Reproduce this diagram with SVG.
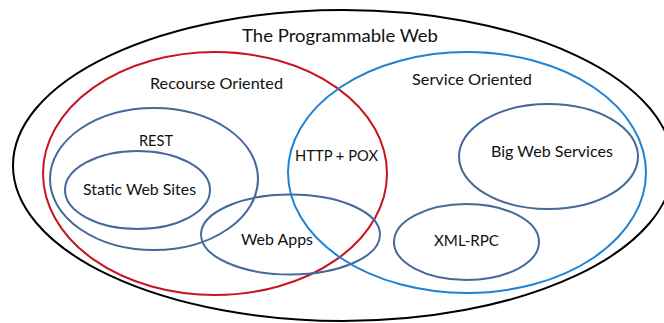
<svg xmlns="http://www.w3.org/2000/svg" width="664" height="323" viewBox="0 0 664 323">
  <style>
    .set { fill: none; stroke-width: 2; }
    .outer { stroke: #000000; }
    .resource { stroke: #c8141e; }
    .service { stroke: #1f82d2; }
    .inner { stroke: #44699a; }
    text { font-family: Lato, "Liberation Sans", Arial, sans-serif; fill: #111111; text-anchor: middle; }
    .big { font-size: 18px; }
    .lbl { font-size: 16px; }
  </style>
  <rect width="664" height="323" fill="#ffffff"/>

  <g id="programmable-web">
    <ellipse class="set outer" cx="343" cy="165.5" rx="330" ry="155.5"/>
    <text class="big" x="340" y="42" textLength="196" lengthAdjust="spacingAndGlyphs">The Programmable Web</text>
  </g>

  <g id="resource-oriented">
    <ellipse class="set resource" cx="215" cy="173.5" rx="172" ry="121.5"/>
    <text class="lbl" x="216.5" y="89" textLength="133" lengthAdjust="spacingAndGlyphs">Recourse Oriented</text>
  </g>

  <g id="service-oriented">
    <ellipse class="set service" cx="467" cy="172.5" rx="179" ry="120.5"/>
    <text class="lbl" x="472" y="85" textLength="120" lengthAdjust="spacingAndGlyphs">Service Oriented</text>
  </g>

  <g id="rest">
    <ellipse class="set inner" cx="154" cy="179" rx="104" ry="71"/>
    <text class="lbl" x="156" y="146" textLength="34" lengthAdjust="spacingAndGlyphs">REST</text>
  </g>

  <g id="static-web-sites">
    <ellipse class="set inner" cx="137.5" cy="190" rx="72.5" ry="39"/>
    <text class="lbl" x="139.5" y="195" textLength="113" lengthAdjust="spacingAndGlyphs">Static Web Sites</text>
  </g>

  <g id="http-pox">
    <text class="lbl" x="336.5" y="161" textLength="83" lengthAdjust="spacingAndGlyphs">HTTP + POX</text>
  </g>

  <g id="web-apps">
    <ellipse class="set inner" cx="290.5" cy="234.5" rx="89.5" ry="40"/>
    <text class="lbl" x="277" y="245" textLength="72" lengthAdjust="spacingAndGlyphs">Web Apps</text>
  </g>

  <g id="big-web-services">
    <ellipse class="set inner" cx="548.5" cy="156.5" rx="89.5" ry="52.5"/>
    <text class="lbl" x="552" y="157" textLength="122" lengthAdjust="spacingAndGlyphs">Big Web Services</text>
  </g>

  <g id="xml-rpc">
    <ellipse class="set inner" cx="466.5" cy="242" rx="72.5" ry="38"/>
    <text class="lbl" x="466.5" y="246" textLength="65" lengthAdjust="spacingAndGlyphs">XML-RPC</text>
  </g>
</svg>
